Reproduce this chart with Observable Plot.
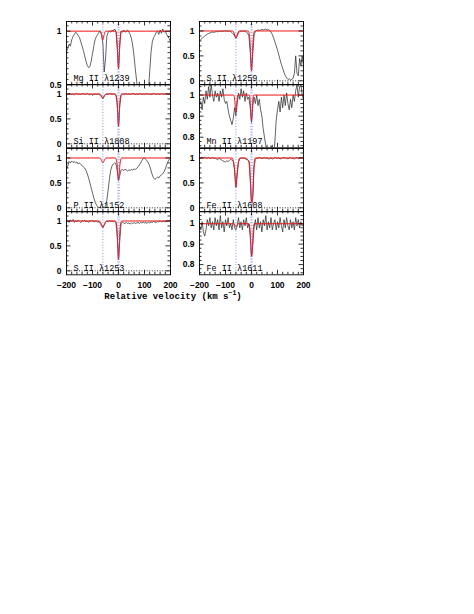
<!DOCTYPE html>
<html><head><meta charset="utf-8">
<script src="https://cdn.jsdelivr.net/npm/d3@7"></script>
<script src="https://cdn.jsdelivr.net/npm/@observablehq/plot@0.6"></script>
<style>
body{margin:0;background:#fff;}
#fig{position:relative;width:474px;height:614px;background:#fff;}
#title{position:absolute;left:93px;top:292px;width:160px;text-align:center;font:bold 9px "Liberation Mono",monospace;color:#000;white-space:nowrap;}
#title sup{font-size:6.5px;vertical-align:4px;line-height:0;}
</style></head><body><div id="fig"><div id="title">Relative velocity (km s<sup>−1</sup>)</div></div>
<script>
// velocity grid (km/s), 5 km/s bins
const vel = d3.range(-200, 201, 5);

// x tick values
const xLabels = [-200, -100, 0, 100, 200];
const xMinor = [-180,-160,-140,-120,-80,-60,-40,-20,20,40,60,80,120,140,160,180];

// y tick values
const yLabels01 = [0, 0.5, 1];
const yMinor01 = [0.1,0.2,0.3,0.4,0.6,0.7,0.8,0.9,1.1];
const yLabelsMg = [0.5, 1];
const yMinorMg = [0.55,0.6,0.65,0.7,0.75,0.8,0.85,0.9,0.95,1.05];
const yLabelsFine = [0.8, 0.9, 1];
const yMinorFine = [0.76,0.78,0.82,0.84,0.86,0.88,0.92,0.94,0.96,0.98,1.02,1.04];

// component velocities (blue dotted)
const components = [-60, -2, 2];

// normalised flux, one value per velocity bin
const fluxMgII1239 = [0.81,0.84,0.88,0.86,0.92,0.95,0.97,0.99,0.98,0.96,
 0.94,0.90,0.86,0.82,0.77,0.72,0.68,0.66,0.67,0.72,
 0.79,0.86,0.92,0.95,0.97,0.99,1.00,0.96,0.88,0.62,
 0.74,0.95,0.99,1.00,0.99,1.01,1.00,1.02,1.00,0.85,
 0.65,0.88,1.00,0.99,1.01,0.99,1.00,1.01,0.99,0.97,
 0.93,0.86,0.76,0.64,0.53,0.42,0.35,0.33,0.34,0.32,
 0.33,0.34,0.35,0.45,0.62,0.80,0.90,0.94,0.96,0.99,
 1.00,0.97,1.01,0.98,1.02,0.99,1.00,0.97,0.95,0.93,0.90];
const fluxSiII1808 = [1.00,0.99,1.01,1.00,0.99,1.00,0.98,1.00,1.01,0.99,
 1.00,0.99,1.01,1.00,0.99,1.00,1.01,0.99,0.98,1.00,
 0.97,0.99,1.00,0.99,1.00,0.99,0.97,0.94,0.90,0.95,
 0.99,1.00,0.99,1.01,1.00,0.99,1.00,0.99,0.97,0.80,
 0.36,0.78,0.97,1.00,0.99,1.00,1.01,0.99,1.00,0.99,
 1.00,1.01,1.00,0.99,1.00,0.99,1.01,1.00,0.99,1.00,
 0.99,1.00,1.01,0.99,1.00,0.99,1.00,1.01,1.00,0.99,
 1.00,1.00,0.99,1.01,1.00,0.99,1.00,1.01,1.00,0.99,1.00];
const fluxPII1152 = [0.78,0.84,0.93,0.90,0.94,0.91,0.93,0.90,0.92,0.88,
 0.90,0.87,0.85,0.82,0.80,0.75,0.68,0.60,0.50,0.40,
 0.30,0.20,0.12,0.06,0.02,0.00,0.01,0.00,0.02,0.00,
 0.04,0.15,0.35,0.58,0.75,0.84,0.88,0.90,0.89,0.75,
 0.55,0.65,0.76,0.77,0.75,0.77,0.76,0.74,0.76,0.75,
 0.77,0.76,0.78,0.77,0.79,0.82,0.86,0.90,0.95,0.99,
 1.00,0.97,0.94,0.90,0.84,0.75,0.66,0.60,0.57,0.59,
 0.62,0.60,0.64,0.66,0.68,0.72,0.78,0.86,0.92,0.97,1.00];
const fluxSII1253 = [0.98,1.00,0.97,1.02,0.99,1.03,0.97,1.01,0.98,1.02,
 0.99,0.97,1.01,0.99,1.02,0.98,1.00,0.97,1.01,0.99,
 1.02,0.98,0.99,1.00,0.97,0.99,0.95,0.90,0.87,0.92,
 0.97,1.00,0.98,1.01,0.99,1.00,0.98,1.00,0.97,0.70,
 0.24,0.62,0.95,0.98,0.96,0.95,0.97,0.95,0.96,0.94,
 0.96,0.95,0.97,0.95,0.96,0.97,0.95,0.97,0.96,0.98,
 0.96,0.97,0.95,0.98,0.96,0.98,0.97,0.99,0.98,0.97,
 0.99,0.98,1.00,0.98,0.99,1.00,0.98,1.00,0.99,1.01,1.00];
const fluxSII1259 = [0.80,0.83,0.85,0.88,0.90,0.92,0.94,0.95,0.96,0.97,
 0.98,0.97,0.98,0.99,0.98,1.00,0.99,1.00,0.99,1.00,
 1.00,1.00,0.99,1.00,0.99,0.97,0.94,0.90,0.85,0.90,
 0.96,0.99,1.00,0.99,1.00,0.99,0.98,0.96,0.90,0.60,
 0.20,0.55,0.92,0.99,1.01,1.02,1.01,1.02,1.03,1.02,
 1.03,1.04,1.02,1.03,1.01,0.98,0.93,0.86,0.78,0.70,
 0.62,0.52,0.42,0.33,0.25,0.17,0.10,0.06,0.03,0.04,
 0.02,0.03,0.05,0.15,0.50,0.15,0.10,0.45,0.30,0.50,0.30];
const fluxMnII1197 = [0.95,0.97,0.93,0.99,0.96,1.02,0.98,1.04,0.99,1.05,
 1.00,0.97,1.02,0.99,1.01,0.97,1.02,0.99,1.03,0.98,
 0.96,0.97,0.93,0.90,0.88,0.86,0.89,0.94,0.90,0.96,
 1.01,0.98,1.03,0.99,1.02,0.97,1.01,0.98,0.99,0.94,
 0.87,0.95,0.99,0.96,1.00,0.95,0.98,0.93,0.90,0.84,
 0.80,0.76,0.73,0.70,0.72,0.76,0.74,0.70,0.78,0.88,
 0.93,0.97,0.92,0.99,0.94,1.00,0.95,1.01,0.96,0.93,
 0.98,0.94,1.00,0.97,1.02,1.05,0.99,1.04,1.05,1.00,0.98];
const fluxFeII1608 = [1.00,0.99,1.01,1.00,1.02,0.99,1.00,1.01,0.99,1.00,
 1.01,0.99,1.00,0.98,0.97,0.99,0.98,0.96,0.94,0.93,
 0.92,0.94,0.93,0.95,0.97,0.96,0.93,0.75,0.42,0.68,
 0.92,0.98,1.00,0.99,1.00,0.99,0.97,0.96,0.94,0.60,
 0.12,0.25,0.82,0.97,1.00,0.99,1.01,1.00,0.99,1.00,
 1.01,0.99,1.00,0.98,0.99,1.00,0.98,0.99,1.01,1.00,
 0.99,1.00,0.98,0.99,1.00,1.01,0.99,1.00,0.98,1.00,
 1.01,0.99,1.00,0.98,1.00,1.01,0.99,1.00,1.01,1.00,0.99];
const fluxFeII1611 = [0.99,0.97,1.01,0.96,0.94,0.97,1.02,0.99,1.03,0.98,
 1.01,0.97,1.03,0.99,1.02,0.97,1.04,0.98,1.01,0.96,
 1.02,0.99,1.03,0.98,1.00,0.97,1.02,0.98,0.97,0.99,
 1.03,0.98,1.01,0.97,1.02,0.99,1.03,0.98,1.00,0.94,
 0.84,0.90,0.98,1.02,0.97,1.03,0.98,1.01,0.96,1.02,
 0.99,1.04,0.97,1.01,0.98,1.03,0.97,1.00,1.02,0.97,
 1.01,0.98,1.03,0.99,0.96,1.02,0.98,1.03,0.99,0.97,
 1.02,0.98,1.01,0.97,1.03,0.99,1.02,0.98,1.01,0.99,1.00];

// fitted profiles: [velocity, flux]
const modelMgII1239 = [[-200,1],[-70,1],[-65,0.97],[-60,0.92],[-55,0.97],[-50,1],[-10,1],[-5,0.88],[-2,0.72],[0,0.65],[2,0.72],[5,0.88],[10,1],[200,1]];
const modelSiII1808 = [[-200,1],[-72,1],[-66,0.97],[-60,0.92],[-54,0.97],[-48,1],[-12,1],[-6,0.88],[-3,0.6],[0,0.35],[3,0.6],[6,0.88],[12,1],[200,1]];
const modelPII1152 = [[-200,1],[-72,1],[-66,0.96],[-60,0.9],[-54,0.96],[-48,1],[-12,1],[-6,0.9],[-3,0.7],[0,0.55],[3,0.7],[6,0.9],[12,1],[200,1]];
const modelSII1253 = [[-200,1],[-74,1],[-67,0.95],[-60,0.87],[-53,0.95],[-46,1],[-12,1],[-6,0.85],[-3,0.5],[0,0.22],[3,0.5],[6,0.85],[12,1],[200,1]];
const modelSII1259 = [[-200,1],[-72,1],[-66,0.94],[-60,0.86],[-54,0.94],[-48,1],[-12,1],[-6,0.8],[-3,0.45],[0,0.2],[3,0.45],[6,0.8],[12,1],[200,1]];
const modelMnII1197 = [[-200,1],[-68,1],[-64,0.97],[-60,0.92],[-56,0.97],[-52,1],[-8,1],[-4,0.95],[-2,0.9],[0,0.88],[2,0.9],[4,0.95],[8,1],[200,1]];
const modelFeII1608 = [[-200,1],[-75,1],[-70,0.95],[-65,0.75],[-60,0.41],[-55,0.7],[-50,0.93],[-45,1],[-25,1],[-15,0.97],[-8,0.9],[-4,0.5],[0,0.12],[3,0.1],[6,0.35],[9,0.8],[14,1],[200,1]];
const modelFeII1611 = [[-200,1],[-68,1],[-63,0.99],[-60,0.985],[-57,0.99],[-52,1],[-10,1],[-5,0.96],[-2,0.88],[0,0.84],[3,0.86],[6,0.95],[10,1],[200,1]];

const panels = [
 {label:"Mg II λ1239", col:0,row:0, flux:fluxMgII1239, model:modelMgII1239, domain:[0.5,1.09], yl:yLabelsMg, ym:yMinorMg},
 {label:"Si II λ1808", col:0,row:1, flux:fluxSiII1808, model:modelSiII1808, domain:[-0.08,1.19], yl:yLabels01, ym:yMinor01},
 {label:"P II λ1152", col:0,row:2, flux:fluxPII1152, model:modelPII1152, domain:[-0.08,1.19], yl:yLabels01, ym:yMinor01},
 {label:"S II λ1253", col:0,row:3, flux:fluxSII1253, model:modelSII1253, domain:[-0.08,1.19], yl:yLabels01, ym:yMinor01},
 {label:"S II λ1259", col:1,row:0, flux:fluxSII1259, model:modelSII1259, domain:[-0.08,1.19], yl:yLabels01, ym:yMinor01},
 {label:"Mn II λ1197", col:1,row:1, flux:fluxMnII1197, model:modelMnII1197, domain:[0.75,1.05], yl:yLabelsFine, ym:yMinorFine},
 {label:"Fe II λ1608", col:1,row:2, flux:fluxFeII1608, model:modelFeII1608, domain:[-0.08,1.19], yl:yLabels01, ym:yMinor01},
 {label:"Fe II λ1611", col:1,row:3, flux:fluxFeII1611, model:modelFeII1611, domain:[0.75,1.06], yl:yLabelsFine, ym:yMinorFine}
];

const W = 104, H = 63.3;
const colX = [66, 198.5];
const rowY = [21, 84.3, 147.6, 210.9];
const fmt = d => d < 0 ? "−" + (-d) : String(d);
const fig = document.getElementById("fig");

for (const p of panels) {
  const [y0, y1] = p.domain;
  const ky = (y1 - y0) / H, kx = 400 / W;
  const spec = vel.map((v, i) => ({v, f: p.flux[i]}));
  const fit = p.model.map(([v, f]) => ({v, f}));
  const marks = [];
  if (y0 < 0) marks.push(Plot.ruleY([0], {stroke: "#000", strokeWidth: 0.8, strokeDasharray: "1,1.6"}));
  marks.push(
    Plot.line(spec, {x: "v", y: "f", curve: "linear", stroke: "#222", strokeWidth: 0.7, clip: true}),
    Plot.line(fit, {x: "v", y: "f", curve: "monotone-x", stroke: "#ee1111", strokeWidth: 1, clip: true}),
    Plot.ruleX(components, {x: d => d, stroke: "#7a7af5", strokeWidth: 0.9, strokeDasharray: "1,1.8"}),
    Plot.frame({stroke: "#000", strokeWidth: 0.9}),
    Plot.ruleX(xLabels, {x: d => d, y1: y0, y2: y0 + 4.5 * ky, strokeWidth: 0.8}),
    Plot.ruleX(xLabels, {x: d => d, y1: y1, y2: y1 - 4.5 * ky, strokeWidth: 0.8}),
    Plot.ruleX(xMinor, {x: d => d, y1: y0, y2: y0 + 2.5 * ky, strokeWidth: 0.8}),
    Plot.ruleX(xMinor, {x: d => d, y1: y1, y2: y1 - 2.5 * ky, strokeWidth: 0.8}),
    Plot.ruleY(p.yl, {y: d => d, x1: -200, x2: -200 + 4.5 * kx, strokeWidth: 0.8}),
    Plot.ruleY(p.yl, {y: d => d, x1: 200, x2: 200 - 4.5 * kx, strokeWidth: 0.8}),
    Plot.ruleY(p.ym, {y: d => d, x1: -200, x2: -200 + 2.5 * kx, strokeWidth: 0.8}),
    Plot.ruleY(p.ym, {y: d => d, x1: 200, x2: 200 - 2.5 * kx, strokeWidth: 0.8}),
    Plot.text(p.yl, {y: d => d, frameAnchor: "left", dx: -5, textAnchor: "end", text: d => fmt(d), fontSize: 8.5, fontWeight: "bold", fontFamily: "Liberation Sans", fill: "#000"}),
    Plot.text([p.label], {frameAnchor: "bottom-left", dx: 7, dy: -4, textAnchor: "start", lineAnchor: "bottom", text: d => d, fontSize: 8.5, fontFamily: "Liberation Mono", fill: "#000"})
  );
  if (p.row === 3) {
    marks.push(Plot.text(xLabels, {x: d => d, frameAnchor: "bottom", dy: 10.5, lineAnchor: "middle", text: d => fmt(d), fontSize: 8.5, fontWeight: "bold", fontFamily: "Liberation Sans", fill: "#000"}));
  }
  const svg = Plot.plot({
    width: W, height: H, margin: 0,
    x: {domain: [-200, 200], axis: null},
    y: {domain: p.domain, axis: null},
    marks
  });
  svg.style.position = "absolute";
  svg.style.left = colX[p.col] + "px";
  svg.style.top = rowY[p.row] + "px";
  svg.style.overflow = "visible";
  svg.style.background = "transparent";
  svg.style.maxWidth = "none";
  fig.appendChild(svg);
}
</script>
</body></html>
